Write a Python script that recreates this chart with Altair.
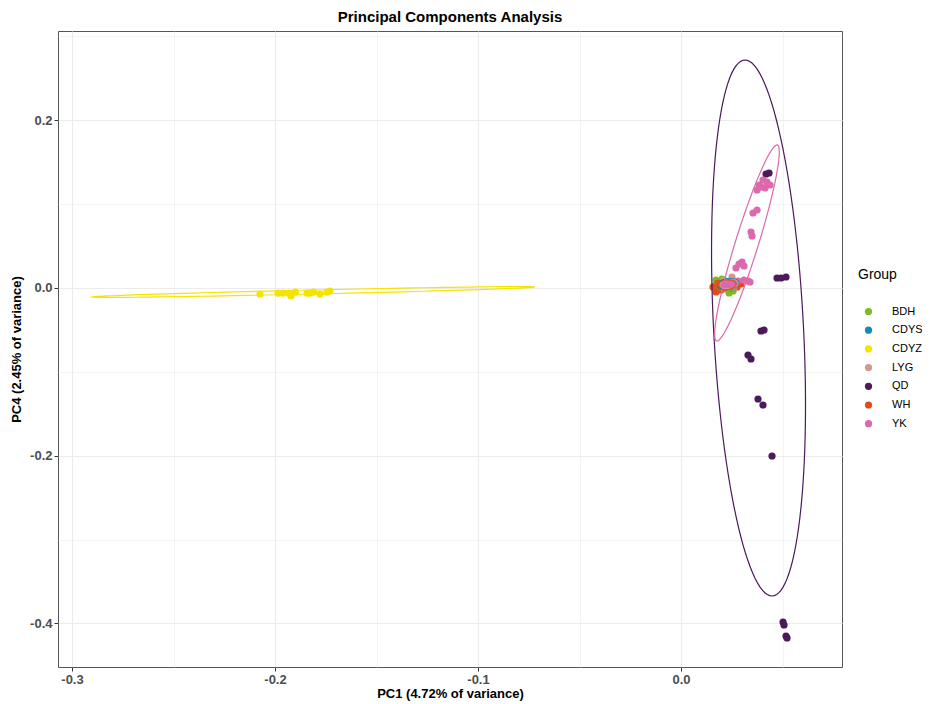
import altair as alt
import numpy as np
import pandas as pd

# ---------------- data ----------------
groups = ["BDH", "CDYS", "CDYZ", "LYG", "QD", "WH", "YK"]
colors = ["#7BBE1C", "#0E8CC0", "#F5E400", "#D4968D", "#4A1A5A", "#E6481C", "#DB69AC"]

bdh_x = [0.01724, 0.02365, 0.02759, 0.01626, 0.02562, 0.02020]
bdh_y = [0.00954, -0.00596, 0.00596, 0.00239, -0.00358, 0.01073]

cdys_x = [0.01921, 0.02167, 0.02562, 0.02414]
cdys_y = [0.00239, 0.00596, 0.00477, 0.00000]

cdyz_x = [-0.2074, -0.1985, -0.1961, -0.1931, -0.1921, -0.1900, -0.1842, -0.1828,
          -0.1810, -0.1778, -0.1744, -0.1729]
cdyz_y = [-0.0072, -0.0060, -0.0060, -0.0060, -0.0095, -0.0050, -0.0060, -0.0060,
          -0.0048, -0.0072, -0.0048, -0.0036]

lyg_x = [0.02118, 0.02512, 0.02857, 0.02315]
lyg_y = [0.00954, 0.01312, 0.00716, 0.00000]

qd_x = [0.04187, 0.04335, 0.04729, 0.04926, 0.05172, 0.03941, 0.04089, 0.03300,
        0.03448, 0.03793, 0.04039, 0.04483, 0.05025, 0.05074, 0.05172, 0.05222]
qd_y = [0.13596, 0.13715, 0.01193, 0.01193, 0.01312, -0.05128, -0.05009, -0.07990,
        -0.08468, -0.13238, -0.13953, -0.20036, -0.39833, -0.40191, -0.41503, -0.41741]

wh_x = [0.01576, 0.01823, 0.01970, 0.02759, 0.02956, 0.01724]
wh_y = [0.00119, 0.00596, -0.00239, 0.00119, 0.00477, -0.00477]

yk_x = [0.03744, 0.03842, 0.04039, 0.04236, 0.04384, 0.04138, 0.03940, 0.03547,
        0.03744, 0.03448, 0.03498, 0.02709, 0.02857, 0.03005, 0.03103, 0.02808,
        0.03103, 0.03300, 0.03399, 0.02118, 0.02315, 0.02512, 0.02217, 0.02611, 0.02414]
yk_y = [0.11688, 0.12284, 0.12880, 0.12642, 0.12284, 0.11926, 0.12050, 0.08945,
        0.09302, 0.06679, 0.06202, 0.02385, 0.02862, 0.03101, 0.02624, 0.00835,
        0.00954, 0.00835, 0.00716, 0.00358, 0.00239, 0.00477, -0.00119, 0.00119, 0.00716]

# confidence ellipses (centre and two conjugate semi-axes, data units)
ell_group = ["BDH", "CDYS", "CDYZ", "LYG", "QD", "WH", "YK"]
ell_cx = [0.02266, 0.02315, -0.18103, 0.02365, 0.03818, 0.02217, 0.03250]
ell_cy = [0.00358, 0.00477, -0.00477, 0.00477, -0.04770, 0.00358, 0.05370]
ell_ax = [0.00542, 0.00542, 0.10911, 0.00443, 0.00665, 0.00493, 0.01478]
ell_ay = [0.00100, 0.00120, 0.00596, 0.00100, -0.31960, 0.00150, 0.11690]
ell_bx = [0.00000, 0.00000, 0.00000, 0.00000, 0.02217, 0.00000, 0.00591]
ell_by = [0.00720, 0.00650, 0.00240, 0.00550, 0.00000, 0.00600, 0.00000]

x_ticks = [-0.3, -0.25, -0.2, -0.15, -0.1, -0.05, 0.0, 0.05]
y_ticks = [-0.4, -0.3, -0.2, -0.1, 0.0, 0.1, 0.2, 0.3]
x_domain = [-0.3069, 0.0793]
y_domain = [-0.452, 0.3065]

# ---------------- build tables ----------------
pts = []
for g, xs, ys in [("BDH", bdh_x, bdh_y), ("CDYS", cdys_x, cdys_y), ("CDYZ", cdyz_x, cdyz_y),
                  ("LYG", lyg_x, lyg_y), ("QD", qd_x, qd_y), ("WH", wh_x, wh_y),
                  ("YK", yk_x, yk_y)]:
    for a, b in zip(xs, ys):
        pts.append({"Group": g, "PC1": a, "PC4": b})
pts_df = pd.DataFrame(pts)

t = np.linspace(0, 2 * np.pi, 121)
ell_rows = []
for g, cx, cy, ax, ay, bx, by in zip(ell_group, ell_cx, ell_cy, ell_ax, ell_ay, ell_bx, ell_by):
    for i, tt in enumerate(t):
        ell_rows.append({"Group": g, "i": i,
                         "PC1": cx + ax * np.cos(tt) + bx * np.sin(tt),
                         "PC4": cy + ay * np.cos(tt) + by * np.sin(tt)})
ell_df = pd.DataFrame(ell_rows)

FONT = "Liberation Sans"
color_scale = alt.Scale(domain=groups, range=colors)

x_minor = "abs(datum.value*10 - round(datum.value*10)) > 0.01"
y_minor = "abs(datum.value*5 - round(datum.value*5)) > 0.01"


def axis(minor_test, title, **kw):
    return alt.Axis(
        title=title,
        values=kw.pop("values"),
        labelExpr=f"{minor_test} ? '' : replace(format(datum.value, '.1f'), '\u2212', '-')",
        grid=True,
        gridColor="#EBEBEB",
        gridWidth={"condition": {"test": minor_test, "value": 0.6}, "value": 1.1},
        tickOpacity={"condition": {"test": minor_test, "value": 0}, "value": 1},
        tickColor="#333333",
        tickSize=4,
        tickWidth=1,
        domain=False,
        labelFont=FONT,
        labelFontSize=13,
        labelFontWeight="bold",
        labelColor="#4D4D4D",
        labelPadding=2,
        titleFont=FONT,
        titleFontSize=13,
        titleFontWeight="bold",
        titleColor="#000000",
        **kw,
    )


x_enc = alt.X("PC1:Q", scale=alt.Scale(domain=x_domain, nice=False, zero=False),
              axis=axis(x_minor, "PC1 (4.72% of variance)", values=x_ticks, titlePadding=1))
y_enc = alt.Y("PC4:Q", scale=alt.Scale(domain=y_domain, nice=False, zero=False),
              axis=axis(y_minor, "PC4 (2.45% of variance)", values=y_ticks, titlePadding=6))

points = alt.Chart(pts_df).mark_circle(size=52, opacity=1).encode(
    x=x_enc,
    y=y_enc,
    color=alt.Color("Group:N", scale=color_scale,
                    legend=alt.Legend(
                        title="Group", orient="none", legendX=800, legendY=237,
                        titleFont=FONT, titleFontSize=14, titleFontWeight="normal",
                        titleColor="#000000", titlePadding=24,
                        labelFont=FONT, labelFontSize=11, labelColor="#000000",
                        labelOffset=18, symbolOffset=5, symbolType="circle",
                        symbolSize=52, symbolStrokeWidth=0, rowPadding=6.7, padding=0)),
)

ellipses = alt.Chart(ell_df).mark_line(strokeWidth=1.2).encode(
    x="PC1:Q",
    y="PC4:Q",
    color=alt.Color("Group:N", scale=color_scale, legend=None),
    detail="Group:N",
    order="i:Q",
)

chart = alt.layer(points, ellipses).properties(
    width=784,
    height=636,
    title=alt.TitleParams("Principal Components Analysis", font=FONT, fontSize=15,
                          fontWeight="bold", color="#000000", anchor="middle",
                          frame="group", offset=6),
    autosize=alt.AutoSizeParams(type="none"),
    padding={"left": 50, "top": 23, "right": 80, "bottom": 36},
).configure_view(stroke="#555555", strokeWidth=1)

chart.save("out.html", embed_options={"renderer": "svg", "actions": False})
